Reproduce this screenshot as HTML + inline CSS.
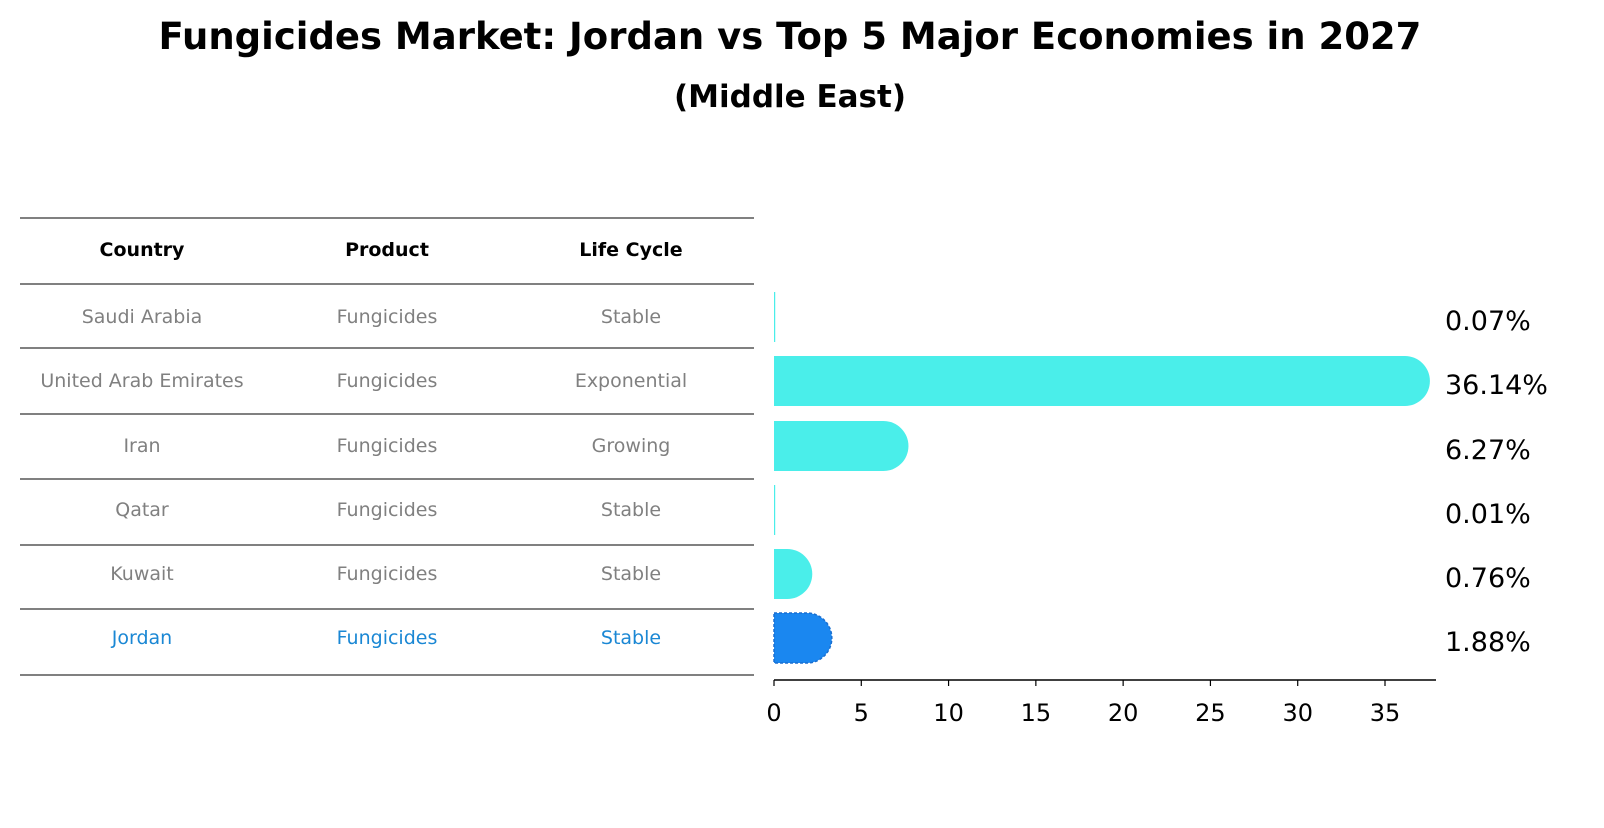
<!DOCTYPE html>
<html><head><meta charset="utf-8"><style>
body{margin:0;background:#fff;font-family:"Liberation Sans","DejaVu Sans",sans-serif}
</style></head><body>
<svg width="1604" height="823" xmlns="http://www.w3.org/2000/svg" font-family="DejaVu Sans, Liberation Sans, sans-serif">
<text x="790" y="49" text-anchor="middle" font-size="37" font-weight="bold">Fungicides Market: Jordan vs Top 5 Major Economies in 2027</text>
<text x="790" y="107" text-anchor="middle" font-size="31" font-weight="bold">(Middle East)</text>
<g id="table"></g>
<g id="bars"></g>
</svg>
<script>
const countries=["Saudi Arabia","United Arab Emirates","Iran","Qatar","Kuwait","Jordan"];
const products=["Fungicides","Fungicides","Fungicides","Fungicides","Fungicides","Fungicides"];
const lifeCycles=["Stable","Exponential","Growing","Stable","Stable","Stable"];
const values=[0.07,36.14,6.27,0.01,0.76,1.88];
const valueLabels=["0.07%","36.14%","6.27%","0.01%","0.76%","1.88%"];
const ticks=[0,5,10,15,20,25,30,35];
const NS="http://www.w3.org/2000/svg";
function mk(p,t,a){const e=document.createElementNS(NS,t);for(const k in a)e.setAttribute(k,a[k]);p.appendChild(e);return e;}
const tbl=document.getElementById('table');
const lineYs=[218,284,348,414,479,545,609,675];
lineYs.forEach(y=>{const l=mk(tbl,'line',{x1:20,x2:754,y1:y,y2:y,stroke:'#000','stroke-width':1});

});
const colX=[142,387,631];
["Country","Product","Life Cycle"].forEach((h,i)=>{const t=mk(tbl,'text',{x:colX[i],y:256,'text-anchor':'middle','font-size':19,'font-weight':'bold'});t.textContent=h;

});
const rowY=[317,381,446,510,574,638];
countries.forEach((c,i)=>{const col=c==="Jordan"?"#1a87d4":"#808080";
[c,products[i],lifeCycles[i]].forEach((v,j)=>{const t=mk(tbl,'text',{x:colX[j],y:rowY[i]+6,'text-anchor':'middle','font-size':19,fill:col});t.textContent=v;

});});
const g=document.getElementById('bars');
const x0=774,px=(1385-774)/35;
const xs=v=>x0+v*px;
const bh=50,r=25;
values.forEach((v,i)=>{const cy=rowY[i];const xe=xs(v);const jd=countries[i]==="Jordan";
let d;
if(v<=0.5){const w=Math.max(xe-x0,1.2);d=`M${x0},${cy-bh/2}h${w}v${bh}h${-w}Z`;}
else d=`M${x0},${cy-bh/2}H${xe}A${r},${r} 0 0 1 ${xe},${cy+bh/2}H${x0}Z`;
const p=mk(g,'path',{d:d,fill:jd?'#1a87f0':'#4aeeea',stroke:jd?'#1a6fd0':'none','stroke-dasharray':jd?'3,2':'none','stroke-width':jd?1.5:0});


const t=mk(g,'text',{x:1445,y:cy+13,'font-size':27});t.textContent=valueLabels[i];

});
const ax=mk(g,'line',{x1:774,x2:1436,y1:680,y2:680,stroke:'#000','stroke-width':1.5});


ticks.forEach(tv=>{const x=xs(tv);const l=mk(g,'line',{x1:x,x2:x,y1:680,y2:686,stroke:'#000','stroke-width':1.2});


const t=mk(g,'text',{x:x,y:721,'text-anchor':'middle','font-size':24});t.textContent=tv;

});
</script>
</body></html>
